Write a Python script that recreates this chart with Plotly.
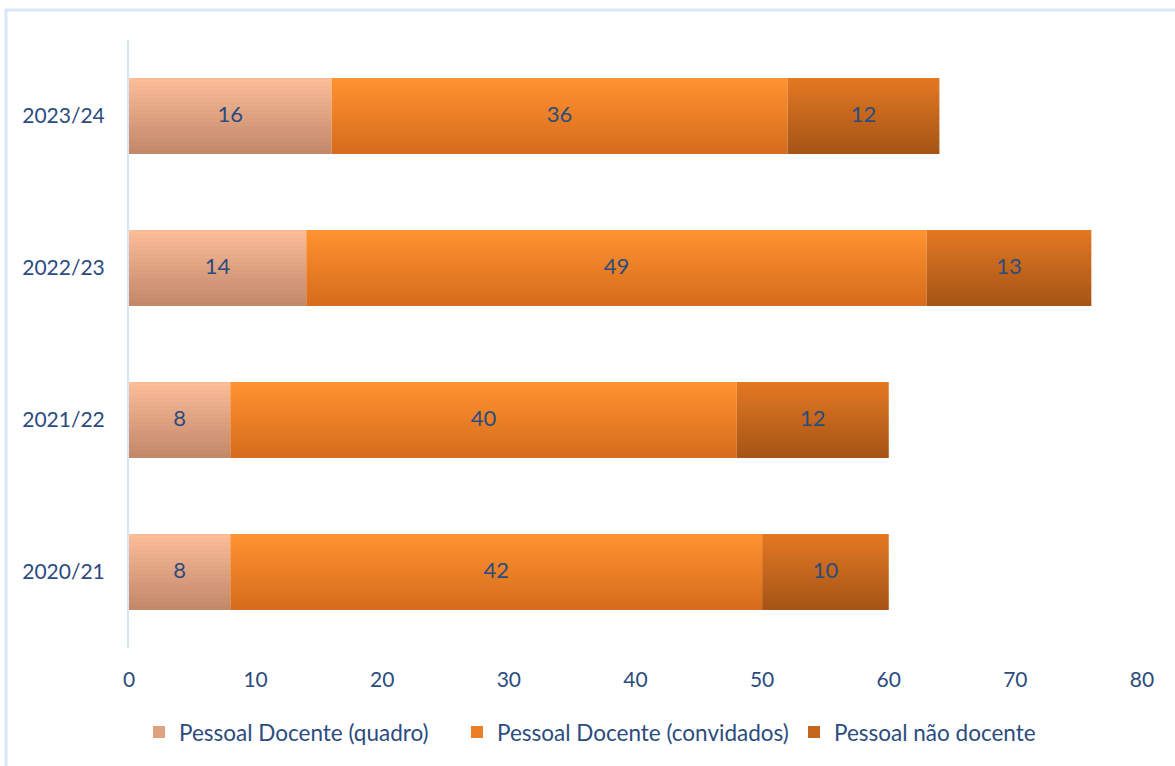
import plotly.graph_objects as go

categories = ["2020/21", "2021/22", "2022/23", "2023/24"]
series_names = ["Pessoal Docente (quadro)", "Pessoal Docente (convidados)", "Pessoal não docente"]
quadro = [8, 8, 14, 16]
convidados = [42, 40, 49, 36]
nao_docente = [10, 12, 13, 12]
x_ticks = [0, 10, 20, 30, 40, 50, 60, 70, 80]

series_values = [quadro, convidados, nao_docente]
# gradient (top colour, bottom colour) for each series
grad = [((0xFB, 0xBC, 0x98), (0xC2, 0x88, 0x6A)),
        ((0xFF, 0x92, 0x30), (0xD6, 0x6C, 0x1C)),
        ((0xE2, 0x77, 0x22), (0xA6, 0x55, 0x16))]

TXT = "#2B4C7E"
FONT = "Lato"
N = 19
BAR_W = 0.5
legend_ids = ["legend", "legend2", "legend3"]
legend_left_px = [153, 471, 808]

fig = go.Figure()
bases = [0] * len(categories)
for si, vals in enumerate(series_values):
    top, bot = grad[si]
    for k in range(N):
        t = k / (N - 1)  # 0 = bottom, 1 = top
        c = tuple(round(bot[j] + (top[j] - bot[j]) * t) for j in range(3))
        col = "rgb(%d,%d,%d)" % c
        fig.add_trace(go.Bar(
            y=categories, x=vals, base=bases, orientation="h",
            width=BAR_W / N, offset=-BAR_W / 2 + k * BAR_W / N,
            marker=dict(color=col, line=dict(width=0)),
            name=series_names[si], legendgroup=series_names[si],
            legend=legend_ids[si],
            showlegend=(k == N // 2), hoverinfo="skip",
        ))
    mids = [b + v / 2 for b, v in zip(bases, vals)]
    fig.add_trace(go.Scatter(
        y=categories, x=mids, mode="text", text=[str(v) for v in vals],
        textfont=dict(family=FONT, size=22, color=TXT),
        showlegend=False, hoverinfo="skip",
    ))
    bases = [b + v for b, v in zip(bases, vals)]

legend_common = dict(orientation="h", xref="container", yref="container",
                     xanchor="left", y=0.044, yanchor="middle",
                     font=dict(family=FONT, size=22.5, color=TXT),
                     bgcolor="rgba(0,0,0,0)", itemwidth=30)

fig.update_layout(
    width=1175, height=766,
    barmode="overlay",
    paper_bgcolor="white", plot_bgcolor="white",
    margin=dict(l=129, r=33, t=40, b=118),
    font=dict(family=FONT, color=TXT, size=21),
    xaxis=dict(range=[0, 80], tickvals=x_ticks, showgrid=False, zeroline=False,
               showline=False, ticks="outside", ticklen=13, tickcolor="rgba(0,0,0,0)",
               tickfont=dict(size=21, color=TXT)),
    yaxis=dict(type="category", categoryorder="array", categoryarray=categories,
               range=[-0.5, 3.5], showgrid=False, zeroline=False,
               showline=True, linecolor="#D6E4F5", linewidth=2,
               ticks="outside", ticklen=18, tickcolor="rgba(0,0,0,0)",
               tickfont=dict(size=21, color=TXT)),
    legend=dict(legend_common, x=(legend_left_px[0] - 14) / 1175),
    legend2=dict(legend_common, x=(legend_left_px[1] - 14) / 1175),
    legend3=dict(legend_common, x=(legend_left_px[2] - 14) / 1175),
    shapes=[dict(type="rect", xref="paper", yref="paper",
                 x0=(6 - 129) / 1013, x1=(1185 - 129) / 1013,
                 y0=(648 - 780) / 608, y1=(648 - 10) / 608,
                 line=dict(color="#DAE6F6", width=3), fillcolor="rgba(0,0,0,0)",
                 layer="below")],
)

fig.write_html("out.html", config={"displayModeBar": False},
               post_script="document.body.style.margin='0';")
